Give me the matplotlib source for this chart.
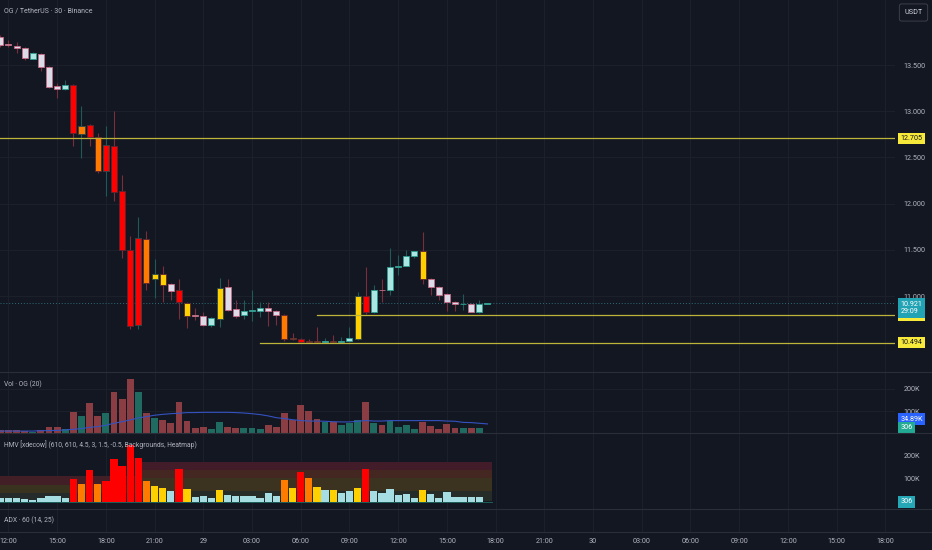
import matplotlib
matplotlib.use("Agg")
import matplotlib.pyplot as plt
from matplotlib.transforms import blended_transform_factory
from matplotlib.lines import Line2D
from matplotlib.patches import Rectangle

plt.rcParams['font.family'] = ['Roboto', 'DejaVu Sans']

# ---- data (30 min candles, 28th 11:30 -> 29th 17:30) ----
opens = [13.80, 13.73, 13.71, 13.68, 13.57, 13.62, 13.48, 13.27, 13.24, 13.28,
         12.75, 12.85, 12.72, 12.35, 12.62, 12.14, 11.50, 10.69, 11.62, 11.18,
         11.24, 11.13, 11.06, 10.92, 10.79, 10.78, 10.69, 10.75, 11.10, 10.86,
         10.79, 10.84, 10.84, 10.87, 10.84, 10.79, 10.55, 10.53, 10.51, 10.51,
         10.50, 10.51, 10.50, 10.51, 10.54, 11.00, 10.83, 11.07, 11.06, 11.31,
         11.33, 11.43, 11.49, 11.18, 11.10, 11.02, 10.94, 10.91, 10.91, 10.83,
         10.915]
highs = [13.83, 13.77, 13.75, 13.69, 13.64, 13.63, 13.49, 13.31, 13.34, 13.29,
         13.06, 12.86, 12.76, 12.84, 13.00, 12.31, 11.65, 11.85, 11.70, 11.40,
         11.32, 11.14, 11.18, 10.93, 10.87, 10.83, 10.77, 11.20, 11.18, 10.96,
         10.96, 11.06, 10.93, 10.93, 10.85, 10.80, 10.60, 10.55, 10.53, 10.66,
         10.55, 10.58, 10.56, 10.66, 11.04, 11.31, 11.12, 11.18, 11.52, 11.44,
         11.50, 11.49, 11.69, 11.19, 11.11, 11.03, 10.95, 11.02, 10.92, 10.96,
         10.925]
lows = [13.70, 13.70, 13.63, 13.55, 13.56, 13.44, 13.25, 13.14, 13.23, 12.62,
        12.49, 12.62, 12.33, 12.08, 12.03, 11.41, 10.64, 10.64, 11.07, 10.98,
        10.93, 10.96, 10.75, 10.65, 10.74, 10.68, 10.66, 10.66, 10.84, 10.76,
        10.75, 10.73, 10.77, 10.67, 10.69, 10.51, 10.52, 10.49, 10.49, 10.49,
        10.49, 10.49, 10.49, 10.50, 10.52, 10.80, 10.82, 10.94, 11.01, 11.23,
        11.32, 11.41, 11.13, 11.01, 10.96, 10.84, 10.84, 10.85, 10.83, 10.82,
        10.915]
closes = [13.72, 13.72, 13.68, 13.58, 13.63, 13.48, 13.26, 13.24, 13.28, 12.76,
          12.84, 12.72, 12.35, 12.63, 12.13, 11.50, 10.68, 11.63, 11.14, 11.24,
          11.12, 11.05, 10.93, 10.78, 10.78, 10.69, 10.76, 11.09, 10.85, 10.78,
          10.84, 10.845, 10.87, 10.84, 10.79, 10.54, 10.53, 10.50, 10.505, 10.50,
          10.51, 10.50, 10.51, 10.55, 11.00, 10.83, 11.07, 11.06, 11.31, 11.33,
          11.43, 11.49, 11.18, 11.10, 11.01, 10.94, 10.91, 10.915, 10.83, 10.91,
          10.921]
volume_k = [15, 15, 15, 12, 8, 15, 27, 27, 18, 97,
            78, 135, 78, 90, 185, 152, 242, 187, 90, 67,
            60, 45, 142, 57, 22, 27, 19, 52, 30, 24,
            25, 25, 18, 37, 27, 93, 60, 127, 102, 63,
            49, 52, 37, 48, 60, 141, 45, 37, 57, 30,
            36, 18, 52, 33, 18, 42, 22, 22, 22, 22,
            0.306]
volume_sma_k = [10, 10, 10, 10, 10, 12, 12, 13, 15, 18,
                21, 27, 30, 36, 45, 52, 60, 69, 75, 81,
                85, 88, 90, 93, 93, 94, 94, 94, 94, 93,
                91, 88, 84, 78, 70, 66, 61, 57, 55, 55,
                54, 52, 51, 51, 54, 57, 55, 55, 57, 57,
                57, 57, 57, 57, 57, 55, 54, 49, 48, 45,
                42]
# heatmap volume level: 0 normal, 1 medium, 2 high, 3 extra high
heat_level = [0, 0, 0, 0, 0, 0, 0, 0, 0, 3,
              2, 3, 2, 3, 3, 3, 3, 3, 2, 1,
              1, 0, 3, 1, 0, 0, 0, 1, 0, 0,
              0, 0, 0, 0, 0, 2, 1, 3, 2, 1,
              0, 1, 0, 0, 1, 3, 0, 0, 0, 0,
              0, 0, 1, 0, 0, 0, 0, 0, 0, 0,
              0]
# HMV background zones (K), two segments
hmv_seg_start = [-0.5, 17.5]
hmv_seg_end = [17.5, 60.5]
hmv_seg_edges = [[3, 38, 74, 112], [3, 46, 102, 138, 171]]

levels = [12.705, 10.79, 10.494]
level_start = [-1, 39, 32]
last_price = 10.921
countdown = "29:09"
price_ticks = [11.0, 11.5, 12.0, 12.5, 13.0, 13.5]
vol_ticks = [100, 200]
time_labels = ["12:00", "15:00", "18:00", "21:00", "29", "03:00", "06:00", "09:00",
               "12:00", "15:00", "18:00", "21:00", "30", "03:00", "06:00", "09:00",
               "12:00", "15:00", "18:00"]
time_tick_pos = [1 + 6 * k for k in range(len(time_labels))]

# ---- style ----
bg = '#131722'
grid = '#1c202b'
sep = '#2a2e39'
txt = '#b2b5be'
heat_body = ['', '#ffd000', '#ff7b00', '#ff0000']
hmv_colors = ['#a6dde3', '#ffd000', '#ff7b00', '#ff0000']
pale_bull, pale_bear = '#ace6e2', '#dcdbe8'
edge_bull, edge_bear = '#2a9d91', '#c76a85'
wick_bull, wick_bear = '#1f5a58', '#7a2e3d'
vol_bull, vol_bear = '#1f6b62', '#8a3d42'
fs = 5.2
fs_title = 4.85

W, H = 932, 550
plot_w = 895
x_lo, x_hi = -0.037, 110.19

fig = plt.figure(figsize=(W / 100, H / 100), dpi=100, facecolor=bg)


def panel(y_top, y_bot):
    ax = fig.add_axes([0, 1 - y_bot / H, plot_w / W, (y_bot - y_top) / H])
    ax.set_facecolor(bg)
    for s in ax.spines.values():
        s.set_visible(False)
    ax.set_xlim(x_lo, x_hi)
    ax.set_xticks([])
    ax.tick_params(length=0, labelsize=fs, colors=txt)
    for p in time_tick_pos:
        ax.axvline(p, color=grid, lw=0.8, zorder=0)
    return ax


ax_main = panel(0, 372)
ax_vol = panel(372, 433.3)
ax_hmv = panel(433.3, 509)
ax_adx = panel(509, 531.5)

# ---- main price panel ----
ax_main.set_ylim(10.1775, 14.2035)
ax_main.yaxis.tick_right()
ax_main.set_yticks(price_ticks)
ax_main.set_yticklabels(['%.3f' % v for v in price_ticks])
ax_main.tick_params(axis='y', pad=6)
for p in price_ticks:
    ax_main.axhline(p, color=grid, lw=0.8, zorder=0)

n = len(opens)
xs = list(range(n))
for i in xs:
    o, h, l, c = opens[i], highs[i], lows[i], closes[i]
    bull = c >= o
    lvl = heat_level[i]
    if lvl == 0:
        face = pale_bull if bull else pale_bear
        edge = edge_bull if bull else edge_bear
    else:
        face = heat_body[lvl]
        edge = '#2b4a4a' if bull else '#5a2530'
    ax_main.vlines(i, l, h, color=wick_bull if bull else wick_bear, lw=0.8, zorder=2)
    body = max(abs(c - o), 0.006)
    ax_main.bar(i, body, bottom=min(o, c), width=0.74, color=face,
                edgecolor=edge, linewidth=0.6, zorder=3)

tr = blended_transform_factory(ax_main.transAxes, ax_main.transData)
for lv, st in zip(levels, level_start):
    ax_main.plot([st, x_hi], [lv, lv], color='#bfb43a', lw=0.9, zorder=4)

ax_main.axhline(last_price, color='#2c6c78', lw=0.7, ls=(0, (1, 2)), zorder=1)

lab_x = 1 + 5.5 / plot_w
for lv in [levels[0], levels[2]]:
    ax_main.text(lab_x, lv, '%.3f' % lv, transform=tr,
                 ha='left', va='center', fontsize=fs, color='#131722',
                 bbox=dict(boxstyle='square,pad=0.3', fc='#f7e93a', ec='none'),
                 clip_on=False, zorder=10)
# the 10.790 label sits under the last-price label: only its edge shows
ax_main.add_patch(Rectangle((lab_x - 2 / plot_w, levels[1] - 0.065), 27 / plot_w, 0.13,
                            transform=tr, fc='#f7e93a', ec='none', clip_on=False, zorder=9))
ax_main.text(lab_x, last_price - 0.05, '%.3f\n%s' % (last_price, countdown),
             transform=tr, ha='left', va='center', fontsize=fs, color='white',
             linespacing=1.1,
             bbox=dict(boxstyle='square,pad=0.35', fc='#22a3b4', ec='none'),
             clip_on=False, zorder=12)

# ---- volume panel ----
ax_vol.set_ylim(0, 275)
vcols = [vol_bull if closes[i] >= opens[i] else vol_bear for i in xs]
ax_vol.bar(xs, volume_k, width=0.84, color=vcols, zorder=2)
ax_vol.plot(xs, volume_sma_k, color='#3452c0', lw=0.8, zorder=3)
ax_vol.yaxis.tick_right()
ax_vol.set_yticks(vol_ticks)
ax_vol.set_yticklabels(['%dK' % v for v in vol_ticks])
ax_vol.tick_params(axis='y', pad=6)
for v in vol_ticks:
    ax_vol.axhline(v, color=grid, lw=0.8, zorder=0)
trv = blended_transform_factory(ax_vol.transAxes, ax_vol.transData)
ax_vol.text(lab_x, 64, '34.89K', transform=trv, ha='left', va='center', fontsize=fs,
            color='white', bbox=dict(boxstyle='square,pad=0.3', fc='#2962ff', ec='none'),
            clip_on=False, zorder=10)
ax_vol.text(lab_x, 24, '306', transform=trv, ha='left', va='center', fontsize=fs,
            color='white', bbox=dict(boxstyle='square,pad=0.3', fc='#22ab94', ec='none'),
            clip_on=False, zorder=11)

# ---- HMV panel ----
ax_hmv.set_ylim(-30, 293)
zone_cols = [['#242b2a', '#39321f', '#421e27'],
             ['#262d29', '#3b3320', '#452722', '#421d29']]
for x0, x1, edges, cols in zip(hmv_seg_start, hmv_seg_end, hmv_seg_edges, zone_cols):
    for b in range(len(edges) - 1):
        ax_hmv.fill_between([x0, x1], edges[b], edges[b + 1], color=cols[b], lw=0, zorder=1)
ax_hmv.bar(xs, volume_k, width=0.9, color=[hmv_colors[k] for k in heat_level], zorder=2)
ax_hmv.plot([-0.5, 60.5], [0, 0], color='#1f6b62', lw=0.6, zorder=3)
ax_hmv.yaxis.tick_right()
ax_hmv.set_yticks(vol_ticks)
ax_hmv.set_yticklabels(['%dK' % v for v in vol_ticks])
ax_hmv.tick_params(axis='y', pad=6)
trh = blended_transform_factory(ax_hmv.transAxes, ax_hmv.transData)
ax_hmv.text(lab_x, 0, '306', transform=trh, ha='left', va='center', fontsize=fs,
            color='white', bbox=dict(boxstyle='square,pad=0.3', fc='#26a7b5', ec='none'),
            clip_on=False, zorder=10)

# ---- ADX panel + time axis ----
ax_adx.set_ylim(0, 1)
ax_adx.set_yticks([])
ax_adx.set_xticks(time_tick_pos)
ax_adx.set_xticklabels(time_labels)
ax_adx.tick_params(axis='x', pad=5, labelsize=fs, colors=txt)

# ---- separators and titles ----
for yy in [372, 433.3, 509, 531.5]:
    fig.add_artist(Line2D([0, 1], [1 - yy / H, 1 - yy / H], color=sep, lw=0.8))

fig.text(4 / W, 1 - 11 / H, 'OG / TetherUS · 30 · Binance', fontsize=5.0, color=txt,
         va='center', ha='left')
fig.text(4 / W, 1 - 384 / H, 'Vol · OG (20)', fontsize=fs_title, color=txt, va='center')
fig.text(4 / W, 1 - 445 / H, 'HMV [xdecow] (610, 610, 4.5, 3, 1.5, -0.5, Backgrounds, Heatmap)',
         fontsize=fs_title, color=txt, va='center')
fig.text(4 / W, 1 - 520 / H, 'ADX · 60 (14, 25)', fontsize=fs_title, color=txt, va='center')
fig.text(913.5 / W, 1 - 12.5 / H, 'USDT', fontsize=fs, color='#d1d4dc', va='center', ha='center',
         bbox=dict(boxstyle='round,pad=0.7,rounding_size=0.3', fc=bg, ec='#434651', lw=0.6))

fig.savefig('out.png', dpi=100, facecolor=bg)
